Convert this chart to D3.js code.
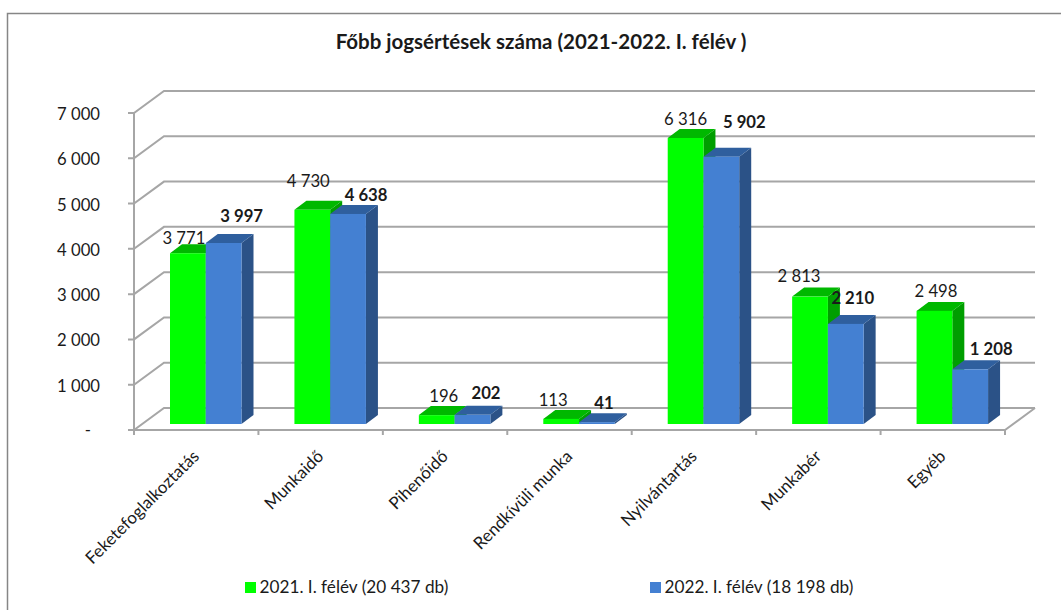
<!DOCTYPE html>
<html><head><meta charset="utf-8">
<script src="https://cdn.jsdelivr.net/npm/d3@7"></script>
<style>html,body{margin:0;padding:0;background:#fff}svg{display:block}text{font-family:Lato,"Open Sans",sans-serif;fill:#1a1a1a}</style>
</head><body><svg id="c" width="1061" height="610"></svg>
<script>
const categories=["Feketefoglalkoztatás","Munkaidő","Pihenőidő","Rendkívüli munka","Nyilvántartás","Munkabér","Egyéb"];
const values2021=[3771,4730,196,113,6316,2813,2498];
const values2022=[3997,4638,202,41,5902,2210,1208];
const yTicks=[0,1000,2000,3000,4000,5000,6000,7000];
const legendLabels=["2021. I. félév (20 437 db)","2022. I. félév (18 198 db)"];
const titleText="Főbb jogsértések száma (2021-2022. I. félév )";
// label nudges from the default spot (bar top centre), in px
const nudge2021=[[-4,-15],[-4,-28],[7,-19],[-8,-18],[0,-18],[-11,-20],[1.5,-19]];
const nudge2022=[[18,-26],[18,-18],[13.5,-21],[7,-19],[23,-34],[7,-25],[21,-20]];

const svg=d3.select("#c");
const fmt=v=>v===0?"-":d3.format(",")(v).replace(/,/g," ");
const depth={x:30,y:-22}, barDepth={x:12,y:-9};
const x=d3.scaleBand().domain(categories).range([134,1005]);
const y=d3.scaleLinear().domain([0,7000]).range([430,113]);
const barBase=-6; // bars stand 6px up on the floor
const inner=d3.scaleBand().domain([0,1]).range([36,107.5]);

svg.append("rect").attr("x",7.5).attr("y",13.5).attr("width",1100).attr("height",640).attr("fill","#fff").attr("stroke","#868686").attr("stroke-width",1.5);
svg.append("text").attr("x",541).attr("y",49).attr("text-anchor","middle").attr("font-size",20.5).attr("font-weight",700).attr("fill","#000").text(titleText);

const grid="#a6a6a6";
const gl=svg.append("g").attr("fill","none").attr("stroke",grid).attr("stroke-width",2);
yTicks.forEach(t=>{
  const py=y(t);
  gl.append("path").attr("d",`M128,${py}H134L${134+depth.x},${py+depth.y}H1035`);
});
gl.append("path").attr("d",`M134,${y(7000)}V${y(0)+5}`);
gl.append("path").attr("d",`M134,${y(0)}H1005L1035,${y(0)+depth.y}`);
categories.forEach(c=>gl.append("path").attr("d",`M${x(c)+x.bandwidth()},${y(0)}v5`));

const colors=[{f:"#00ff00",t:"#00b800",s:"#009e00"},{f:"#4480d2",t:"#2f5f9e",s:"#2b5287"}];
const barsG=svg.append("g");
function bar(cat,v,s){
  const x0=x(cat)+inner(s), w=inner.bandwidth(), b=y(0)+barBase, t=y(v)+barBase, c=colors[s];
  const g=barsG.append("g");
  g.append("path").attr("fill",c.s).attr("d",`M${x0+w},${t}l${barDepth.x},${barDepth.y}V${b+barDepth.y}l${-barDepth.x},${-barDepth.y}Z`);
  g.append("path").attr("fill",c.t).attr("d",`M${x0},${t}l${barDepth.x},${barDepth.y}h${w}l${-barDepth.x},${-barDepth.y}Z`);
  g.append("rect").attr("x",x0).attr("y",t).attr("width",w).attr("height",b-t).attr("fill",c.f);
}
categories.forEach((c,i)=>{bar(c,values2021[i],0);bar(c,values2022[i],1);});

const lab=svg.append("g").attr("font-size",16.7).attr("text-anchor","middle");
categories.forEach((c,i)=>{
  [[values2021,nudge2021,400],[values2022,nudge2022,700]].forEach(([vals,n,wt],s)=>{
    lab.append("text").attr("x",x(c)+inner(s)+inner.bandwidth()/2+n[i][0])
      .attr("y",y(vals[i])+barBase+n[i][1]+5.5).attr("font-weight",wt)
      .attr("fill",s?"#000":"#1a1a1a").text(fmt(vals[i]));
  });
});

const yl=svg.append("g").attr("font-size",16.7).attr("text-anchor","end");
yTicks.forEach(t=>yl.append("text").attr("x",t===0?91:100).attr("y",y(t)+(t===0?6:7)).text(fmt(t)));

const xl=svg.append("g").attr("font-size",17).attr("text-anchor","end");
categories.forEach(c=>{
  const cx=x(c)+x.bandwidth()/2-4.5;
  xl.append("text").attr("transform",`translate(${cx},449) rotate(-45)`).attr("dy","0.7em").text(c);
});

const lg=svg.append("g").attr("font-size",17.2);
[[245,0],[650,1]].forEach(([lx,s])=>{
  lg.append("rect").attr("x",lx).attr("y",582).attr("width",11).attr("height",11).attr("fill",colors[s].f);
  lg.append("text").attr("x",lx+14.5).attr("y",593).text(legendLabels[s]);
});
</script></body></html>
